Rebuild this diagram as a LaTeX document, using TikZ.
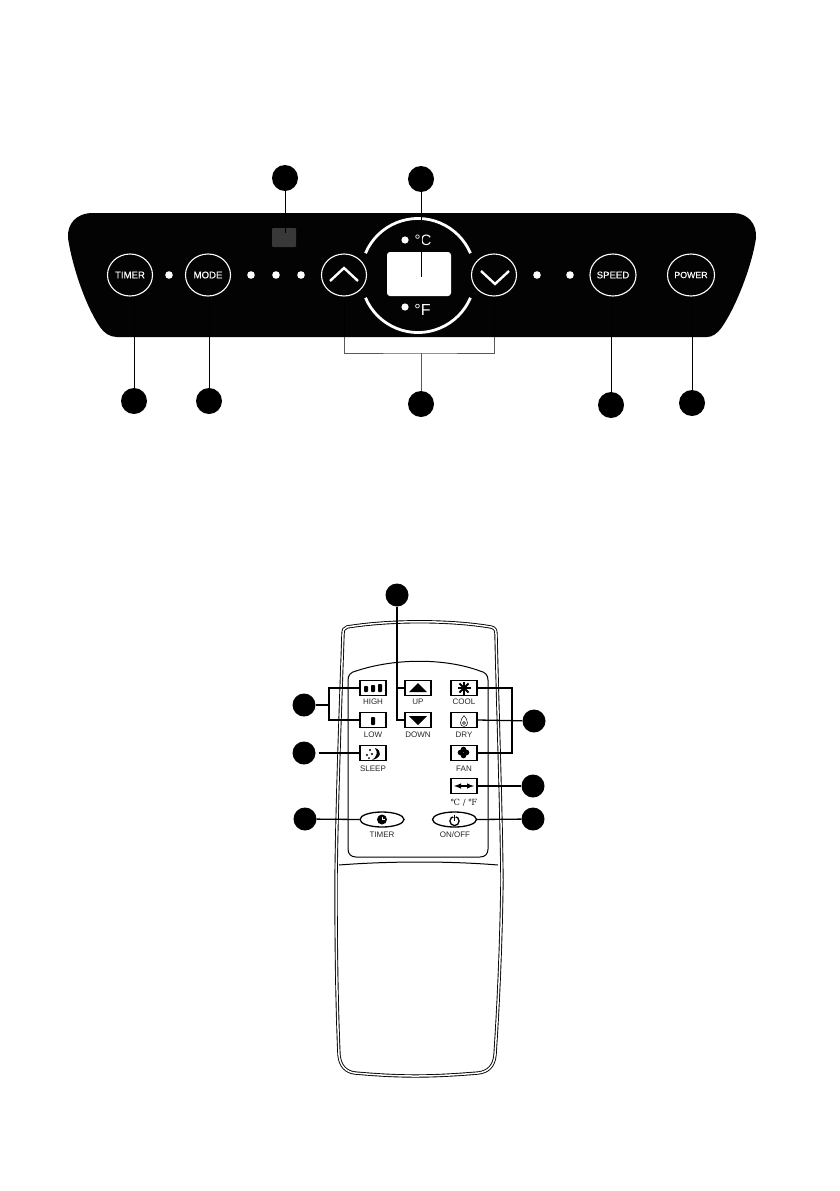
\documentclass[tikz,border=0pt]{standalone}
\usepackage{fontspec}
\setmainfont{Liberation Sans}
\newfontfamily\symbfont{DejaVu Serif}
\newfontfamily\btnfont[FakeBold=0.4]{Liberation Sans}
\usetikzlibrary{shapes.geometric}

\begin{document}
\begin{tikzpicture}[
            x=1pt, y=-1pt,
            numdot/.style={circle, fill=black, minimum size=26pt, inner sep=0pt},
            smalldot/.style={circle, fill=black, minimum size=23pt, inner sep=0pt},
            leader/.style={color=black, line width=0.9pt},
            thinleader/.style={color=black!65, line width=0.7pt},
            panelbtn/.style={ellipse, draw=white, line width=1.1pt, minimum width=45pt, minimum height=42pt, inner sep=0pt, text=white, font=\btnfont\fontsize{9.6}{10}\selectfont},
            remotebtn/.style={rectangle, draw=black, line width=1.3pt, minimum width=26pt, minimum height=15pt, inner sep=0pt},
            ovalbtn/.style={ellipse, draw=black, line width=1.3pt, minimum width=44pt, minimum height=15pt, inner sep=0pt},
            remotelabel/.style={inner sep=0pt, color=black!85, font=\fontsize{8}{9}\selectfont},
            shell/.style={draw=black, line width=0.9pt, double=white, double distance=1.5pt},
            remoteline/.style={draw=black, line width=1pt},
            remotewire/.style={color=black, line width=1.3pt}
        ]
            \useasboundingbox (0,0) rectangle (839,1191);

            % arrow bracket
            \coordinate (arrowjoin) at (421,353);
            \coordinate (panelbottom) at (421,337);
            \coordinate (upfoot) at (344,296);
            \coordinate (downfoot) at (494,296);
            \draw[thinleader] (upfoot) |- (arrowjoin) -| (downfoot);

            % panel
            \fill[color=black!99] (93,213) -- (733,213) .. controls (748,213) and (757,224) .. (756,238)
                .. controls (752,265) and (737,305) .. (722,327) .. controls (717,334) and (712,337) .. (707,337)
                -- (117,337) .. controls (110,337) and (104,333) .. (100,327)
                .. controls (85,305) and (72,265) .. (68,238) .. controls (67,224) and (76,213) .. (93,213) -- cycle;

            % indicator lights
            \foreach \x in {169, 251, 276, 301, 537, 570}{
                \fill[white] (\x, 275) circle (3.8pt);
            }

            % sensor window
            \fill[color=black!78, rounded corners=1pt] (272,228) rectangle (296,247);

            % display
            \node[rectangle, fill=white, rounded corners=3pt, minimum width=64pt, minimum height=44pt, inner sep=0pt] (display) at (419,274) {};
            \draw[white, line width=2.8pt] (365.5,253.2) arc[start angle=157, end angle=23, radius=57pt];
            \draw[white, line width=2.8pt] (365.5,297.8) arc[start angle=203, end angle=337, radius=57pt];
            \fill[white] (405,240) circle (3.6pt);
            \fill[white] (405,307) circle (3.6pt);
            \node[text=white, inner sep=0pt, font=\fontsize{15}{16}\selectfont] (celsius) at (423,240) {°C};
            \node[text=white, inner sep=0pt, font=\fontsize{16}{17}\selectfont] (fahrenheit) at (422.5,310) {°F};

            % panel buttons
            \node[panelbtn] (timerbtn) at (130,275) {TIMER};
            \node[panelbtn] (modebtn) at (208,275) {MODE};
            \node[panelbtn] (upbtn) at (344,275) {};
            \node[panelbtn] (downbtn) at (494,275) {};
            \node[panelbtn] (speedbtn) at (613,275) {SPEED};
            \node[panelbtn, font=\btnfont\fontsize{8.8}{10}\selectfont] (powerbtn) at (691,275) {POWER};
            \draw[white, line width=2.4pt] (330,281) -- (344,268) -- (358,281);
            \draw[white, line width=2.4pt] (481,271) -- (495,284) -- (509,271);

            % panel numbers
            \node[numdot] (lampnum) at (285,178) {};
            \node[numdot] (displaynum) at (421,179) {};
            \node[numdot] (timernum) at (134,401) {};
            \node[numdot] (modenum) at (209,401) {};
            \node[numdot] (arrownum) at (421,404) {};
            \node[numdot] (speednum) at (611,405) {};
            \node[numdot] (powernum) at (692,403) {};

            % panel leaders
            \coordinate (lampend) at (285,233);
            \coordinate (displayend) at (421,277);
            \draw[leader] (lampnum) -- (lampend);
            \draw[leader] (displaynum) -- (displayend);
            \draw[leader] (timernum) -- (timernum |- timerbtn.south);
            \draw[leader] (modenum) -- (modenum |- modebtn.south);
            \draw[leader] (speednum) -- (speednum |- speedbtn.south);
            \draw[leader] (powernum) -- (powernum |- powerbtn.south);
            \draw[leader] (upbtn.south) -- (upbtn.south |- panelbottom);
            \draw[leader] (downbtn.south) -- (downbtn.south |- panelbottom);
            \draw[thinleader] (arrowjoin) -- (arrownum);

            % remote body
            \path[shell] (347,627) .. controls (390,620) and (450,620) .. (491,627)
                .. controls (495,628) and (496,630) .. (496,634) .. controls (498,720) and (501,800) .. (502,880)
                .. controls (501,950) and (498,1010) .. (495,1055) .. controls (494,1066) and (488,1072) .. (478,1073)
                .. controls (430,1077) and (400,1077) .. (355,1073) .. controls (346,1072) and (340,1066) .. (339,1055)
                .. controls (337,1010) and (336,950) .. (336,880) .. controls (337,800) and (340,720) .. (343,634)
                .. controls (343,630) and (344,628) .. (347,627) -- cycle;
            \path[remoteline] (339,865) .. controls (390,861) and (450,861) .. (498,865);
            \path[remoteline] (356,671) .. controls (395,658) and (445,658) .. (480,671)
                .. controls (485,672) and (488,675) .. (488,680) -- (488,849)
                .. controls (488,854) and (485,857) .. (480,857) -- (356,857)
                .. controls (351,857) and (348,854) .. (348,849) -- (348,680)
                .. controls (348,675) and (351,672) .. (356,671) -- cycle;

            % remote buttons
            \node[remotebtn] (highbtn) at (373,688) {};
            \node[remotebtn] (uparrowbtn) at (418,688) {};
            \node[remotebtn] (coolbtn) at (464,688) {};
            \node[remotebtn] (lowbtn) at (373,720) {};
            \node[remotebtn] (downarrowbtn) at (418,720) {};
            \node[remotebtn] (drybtn) at (464,720) {};
            \node[remotebtn] (sleepbtn) at (373,753) {};
            \node[remotebtn] (fanbtn) at (464,753) {};
            \node[remotebtn] (unitbtn) at (464,786) {};
            \node[ovalbtn] (clockbtn) at (382,819.5) {};
            \node[ovalbtn] (onoffbtn) at (454.5,819.5) {};

            % remote labels
            \node[remotelabel] (highlabel) at (373,702) {HIGH};
            \node[remotelabel] (uplabel) at (418,702) {UP};
            \node[remotelabel] (coollabel) at (464,702) {COOL};
            \node[remotelabel] (lowlabel) at (373,735) {LOW};
            \node[remotelabel] (downlabel) at (418,735) {DOWN};
            \node[remotelabel] (drylabel) at (464,735) {DRY};
            \node[remotelabel] (sleeplabel) at (373,769) {SLEEP};
            \node[remotelabel] (fanlabel) at (464,769) {FAN};
            \node[remotelabel, font=\symbfont\fontsize{8.5}{10}\selectfont] (unitlabel) at (464,803) {℃ / ℉};
            \node[remotelabel] (clocklabel) at (382,835) {TIMER};
            \node[remotelabel] (onofflabel) at (455,835) {ON/OFF};

            % icons
            \fill[rounded corners=0.8pt] (364,686) rectangle (368,692);
            \fill[rounded corners=0.8pt] (371,685) rectangle (375,692);
            \fill[rounded corners=0.8pt] (378,684) rectangle (382,692);
            \fill[rounded corners=0.8pt] (371,717) rectangle (375,725);
            \fill (409,692) -- (418,683) -- (427,692) -- cycle;
            \fill (409,716) -- (427,716) -- (418,725) -- cycle;
            \foreach \a in {0, 45, 90, 135}{
                \draw[line width=1.8pt] (464,688) ++(\a:6.5pt) -- ++(\a+180:13pt);
            }
            \draw[line width=0.5pt] (464,715.5) .. controls (462,718) and (460.5,720.5) .. (460.5,723)
                .. controls (460.5,727.5) and (467.5,727.5) .. (467.5,723) .. controls (467.5,720.5) and (466,718) .. (464,715.5);
            \draw[line width=0.5pt] (464,723) circle (1.5pt);
            \foreach \a in {0, 90, 180, 270}{
                \fill (463.5,752.5) ++(\a:3pt) circle (2.8pt);
            }
            \fill (375,748) .. controls (382,750) and (382,758) .. (372,760)
                .. controls (377,757) and (378,752) .. (375,748) -- cycle;
            \fill (367,755) circle (1.2pt) (370,750) circle (1.2pt) (369,758) circle (1pt) (372,754) circle (1.2pt);
            \draw[<->, >=latex, line width=1.4pt] (454,786) -- (474,786);
            \fill (382,819.5) circle (5pt);
            \draw[white, line width=0.8pt] (382,816.5) -- (382,819.5) -- (385,819.5);
            \draw[line width=1.3pt] (454.5,821) circle (4.6pt);
            \draw[white, line width=2.8pt] (454.5,815) -- (454.5,817);
            \draw[line width=1.3pt] (454.5,814.5) -- (454.5,820.5);

            % remote numbers
            \node[smalldot] (arrowsnum) at (397,595) {};
            \node[smalldot] (fansnum) at (304,705) {};
            \node[smalldot] (modesnum) at (534,721) {};
            \node[smalldot] (sleepnum) at (304,753) {};
            \node[smalldot] (unitnum) at (533,786) {};
            \node[smalldot] (clocknum) at (305,819) {};
            \node[smalldot] (onoffnum) at (533,819) {};

            % remote leaders
            \coordinate (fansjoin) at (329,705);
            \coordinate (arrowsend) at (397,720);
            \coordinate (modesjoin) at (512,721);
            \draw[remotewire] (highbtn.west) -| (fansjoin) |- (lowbtn.west);
            \draw[remotewire] (fansnum) -- (fansjoin);
            \draw[remotewire] (arrowsnum) -- (arrowsend) -- (downarrowbtn.west);
            \draw[remotewire] (arrowsnum |- uparrowbtn.west) -- (uparrowbtn.west);
            \draw[remotewire] (coolbtn.east) -| (modesjoin) |- (fanbtn.east);
            \draw[remotewire] (drybtn.east) -- (modesnum);
            \draw[remotewire, shorten <=3pt] (sleepnum) -- (sleepbtn.west);
            \draw[remotewire] (unitbtn.east) -- (unitnum);
            \draw[remotewire] (clocknum) -- (clockbtn.west);
            \draw[remotewire] (onoffbtn.east) -- (onoffnum);

        \end{tikzpicture}
\end{document}
